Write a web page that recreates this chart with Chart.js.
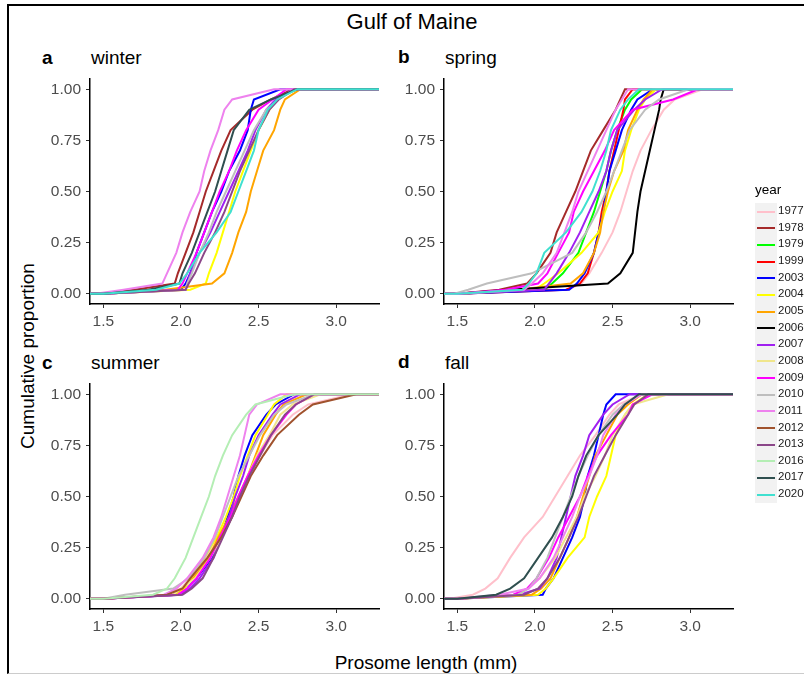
<!DOCTYPE html>
<html>
<head>
<meta charset="utf-8">
<script src="https://cdn.jsdelivr.net/npm/chart.js@4.4.1/dist/chart.umd.min.js"></script>
<style>
  body { margin: 0; width: 804px; height: 674px; background: #fff; position: relative; overflow: hidden;
         font-family: "Liberation Sans", Arial, sans-serif; }
  .frame { position: absolute; left: 7px; top: 4px; width: 820px; height: 667px;
           border-left: 2px solid #000; border-top: 2px solid #000; border-bottom: 1px solid #ccc; }
  .t { position: absolute; white-space: nowrap; line-height: 1; color: #000; }
  .c { transform: translate(-50%, -50%); }
  .l { transform: translateY(-50%); }
  canvas { position: absolute; }
  #legend { position: absolute; left: 755px; top: 180px; }
</style>
</head>
<body>
<div class="frame"></div>
<div class="t c" style="left:412px;top:22px;font-size:22px">Gulf of Maine</div>

<div class="t l" style="left:42px;top:57px;font-size:19px;font-weight:bold">a</div>
<div class="t l" style="left:91px;top:57px;font-size:19px">winter</div>
<div class="t l" style="left:398px;top:56px;font-size:19px;font-weight:bold">b</div>
<div class="t l" style="left:445px;top:57px;font-size:19px">spring</div>
<div class="t l" style="left:42px;top:362px;font-size:19px;font-weight:bold">c</div>
<div class="t l" style="left:91px;top:362px;font-size:19px">summer</div>
<div class="t l" style="left:398px;top:361px;font-size:19px;font-weight:bold">d</div>
<div class="t l" style="left:445px;top:362px;font-size:19px">fall</div>

<div class="t" style="left:27px;top:356px;font-size:19px;transform:translate(-50%,-50%) rotate(-90deg)">Cumulative proportion</div>
<div class="t c" style="left:426px;top:662px;font-size:19px">Prosome length (mm)</div>

<canvas id="winter" width="360" height="262" style="left:30px;top:70px"></canvas>
<canvas id="spring" width="360" height="262" style="left:384px;top:70px"></canvas>
<canvas id="summer" width="360" height="262" style="left:30px;top:375px"></canvas>
<canvas id="fall" width="360" height="262" style="left:384px;top:375px"></canvas>

<div id="legend"></div>

<script>
// years and their colours (legend order)
const years = ['1977', '1978', '1979', '1999', '2003', '2004', '2005', '2006', '2007',
  '2008', '2009', '2010', '2011', '2012', '2013', '2016', '2017', '2020']
const yearColors = ['#FFC0CB', '#A52A2A', '#00FF00', '#FF0000', '#0000FF', '#FFFF00', '#FFA500', '#000000', '#A020F0',
  '#F0E68C', '#FF00FF', '#BEBEBE', '#EE82EE', '#A0522D', '#8B4789', '#B4EEB4', '#2F4F4F', '#40E0D0']

// cumulative proportion levels, and the prosome length (mm) reached at each level
const cumLevels = [0, 0.02, 0.05, 0.1, 0.2, 0.3, 0.4, 0.5, 0.6, 0.7, 0.8, 0.9, 0.95, 1]

const winter = {
  '1978': [1.50, 1.70, 1.96, 1.98, 2.03, 2.08, 2.12, 2.16, 2.21, 2.26, 2.32, 2.46, 2.58, 2.72],
  '2003': [1.50, 2.00, 2.03, 2.06, 2.10, 2.15, 2.20, 2.26, 2.31, 2.38, 2.43, 2.45, 2.47, 2.64],
  '2004': [1.50, 2.06, 2.16, 2.18, 2.23, 2.27, 2.31, 2.35, 2.40, 2.45, 2.50, 2.57, 2.62, 2.73],
  '2005': [1.50, 1.90, 2.20, 2.28, 2.33, 2.37, 2.42, 2.45, 2.49, 2.53, 2.60, 2.64, 2.67, 2.77],
  '2007': [1.50, 2.03, 2.04, 2.06, 2.12, 2.19, 2.25, 2.31, 2.37, 2.43, 2.48, 2.55, 2.61, 2.73],
  '2009': [1.50, 1.98, 2.01, 2.04, 2.10, 2.15, 2.20, 2.25, 2.31, 2.36, 2.42, 2.50, 2.59, 2.68],
  '2010': [1.50, 2.03, 2.04, 2.07, 2.12, 2.18, 2.23, 2.29, 2.35, 2.41, 2.47, 2.55, 2.63, 2.73],
  '2011': [1.45, 1.63, 1.88, 1.91, 1.97, 2.01, 2.06, 2.12, 2.15, 2.19, 2.24, 2.28, 2.33, 2.60],
  '2013': [1.50, 2.03, 2.05, 2.09, 2.15, 2.22, 2.28, 2.33, 2.38, 2.44, 2.50, 2.57, 2.63, 2.73],
  '2017': [1.50, 1.79, 1.99, 2.01, 2.07, 2.12, 2.17, 2.22, 2.26, 2.30, 2.34, 2.44, 2.58, 2.75],
  '2020': [1.50, 1.84, 1.99, 2.04, 2.12, 2.23, 2.32, 2.37, 2.42, 2.47, 2.50, 2.56, 2.62, 2.75]
}

const spring = {
  '1977': [1.50, 2.21, 2.30, 2.35, 2.43, 2.50, 2.55, 2.59, 2.63, 2.68, 2.75, 2.83, 2.90, 3.08],
  '1978': [1.50, 1.77, 1.95, 2.01, 2.10, 2.14, 2.20, 2.26, 2.31, 2.36, 2.44, 2.52, 2.55, 2.58],
  '1979': [1.50, 2.06, 2.11, 2.18, 2.28, 2.33, 2.38, 2.42, 2.46, 2.49, 2.53, 2.58, 2.62, 2.69],
  '1999': [1.50, 2.20, 2.29, 2.34, 2.38, 2.41, 2.43, 2.46, 2.48, 2.51, 2.54, 2.57, 2.58, 2.63],
  '2003': [1.50, 2.22, 2.27, 2.32, 2.38, 2.41, 2.44, 2.46, 2.48, 2.52, 2.56, 2.62, 2.66, 2.76],
  '2004': [1.50, 2.00, 2.06, 2.15, 2.30, 2.41, 2.45, 2.50, 2.56, 2.58, 2.62, 2.67, 2.71, 2.78],
  '2005': [1.50, 1.89, 2.23, 2.31, 2.38, 2.42, 2.44, 2.47, 2.51, 2.57, 2.60, 2.66, 2.70, 2.76],
  '2006': [1.50, 1.83, 2.47, 2.55, 2.63, 2.645, 2.66, 2.68, 2.71, 2.74, 2.77, 2.80, 2.81, 2.83],
  '2007': [1.50, 2.06, 2.09, 2.14, 2.22, 2.29, 2.35, 2.41, 2.46, 2.49, 2.53, 2.64, 2.71, 2.82],
  '2009': [1.50, 1.81, 2.02, 2.08, 2.15, 2.22, 2.25, 2.31, 2.38, 2.45, 2.51, 2.63, 2.89, 3.05],
  '2010': [1.48, 1.57, 1.69, 1.98, 2.24, 2.33, 2.40, 2.46, 2.51, 2.56, 2.61, 2.71, 2.80, 2.99],
  '2011': [1.50, 1.93, 1.98, 2.05, 2.14, 2.19, 2.24, 2.28, 2.34, 2.40, 2.46, 2.52, 2.56, 2.60],
  '2020': [1.50, 1.92, 1.96, 2.01, 2.06, 2.20, 2.30, 2.37, 2.42, 2.46, 2.49, 2.55, 2.60, 2.67]
}

const summer = {
  '1977': [1.50, 1.90, 2.00, 2.06, 2.16, 2.25, 2.32, 2.38, 2.44, 2.51, 2.59, 2.72, 2.82, 3.10],
  '2003': [1.50, 1.98, 2.04, 2.10, 2.20, 2.26, 2.30, 2.34, 2.37, 2.41, 2.46, 2.55, 2.61, 2.73],
  '2004': [1.50, 1.96, 2.02, 2.07, 2.15, 2.23, 2.29, 2.34, 2.38, 2.43, 2.48, 2.56, 2.60, 2.68],
  '2005': [1.50, 1.95, 2.01, 2.08, 2.18, 2.24, 2.31, 2.37, 2.43, 2.48, 2.53, 2.61, 2.66, 2.81],
  '2007': [1.50, 2.00, 2.06, 2.12, 2.21, 2.26, 2.31, 2.35, 2.40, 2.44, 2.50, 2.59, 2.64, 2.77],
  '2008': [1.50, 1.95, 2.00, 2.09, 2.19, 2.26, 2.33, 2.38, 2.43, 2.49, 2.57, 2.64, 2.72, 2.90],
  '2009': [1.50, 1.98, 2.04, 2.10, 2.19, 2.25, 2.32, 2.37, 2.43, 2.50, 2.58, 2.68, 2.74, 2.86],
  '2010': [1.50, 1.64, 1.95, 2.05, 2.15, 2.22, 2.27, 2.32, 2.37, 2.44, 2.51, 2.60, 2.68, 2.86],
  '2011': [1.50, 1.89, 1.97, 2.04, 2.14, 2.21, 2.26, 2.30, 2.34, 2.38, 2.41, 2.44, 2.49, 2.64],
  '2012': [1.50, 1.91, 2.01, 2.06, 2.17, 2.26, 2.33, 2.39, 2.45, 2.53, 2.62, 2.76, 2.85, 3.13],
  '2013': [1.50, 2.01, 2.07, 2.14, 2.21, 2.27, 2.33, 2.38, 2.44, 2.51, 2.58, 2.67, 2.74, 2.86],
  '2016': [1.50, 1.82, 1.91, 1.96, 2.03, 2.08, 2.13, 2.18, 2.22, 2.27, 2.33, 2.42, 2.48, 2.73]
}

const fall = {
  '1977': [1.45, 1.60, 1.68, 1.76, 1.84, 1.93, 2.05, 2.13, 2.21, 2.29, 2.39, 2.48, 2.54, 2.69],
  '2003': [1.50, 2.05, 2.07, 2.12, 2.18, 2.24, 2.29, 2.32, 2.34, 2.38, 2.41, 2.44, 2.46, 2.52],
  '2004': [1.50, 2.02, 2.07, 2.12, 2.21, 2.32, 2.35, 2.40, 2.46, 2.49, 2.52, 2.58, 2.63, 2.73],
  '2005': [1.50, 1.98, 2.04, 2.10, 2.16, 2.22, 2.27, 2.31, 2.35, 2.39, 2.46, 2.53, 2.60, 2.69],
  '2007': [1.50, 1.90, 2.03, 2.08, 2.14, 2.17, 2.20, 2.23, 2.26, 2.31, 2.35, 2.44, 2.50, 2.61],
  '2008': [1.45, 1.90, 1.95, 2.03, 2.13, 2.20, 2.27, 2.32, 2.39, 2.45, 2.50, 2.58, 2.63, 2.86],
  '2009': [1.50, 1.86, 1.95, 2.01, 2.09, 2.15, 2.22, 2.29, 2.34, 2.40, 2.49, 2.60, 2.63, 2.76],
  '2010': [1.50, 1.89, 1.96, 2.01, 2.08, 2.13, 2.18, 2.23, 2.28, 2.34, 2.41, 2.50, 2.57, 2.69],
  '2011': [1.50, 1.77, 1.96, 2.03, 2.12, 2.18, 2.24, 2.29, 2.35, 2.40, 2.44, 2.52, 2.58, 2.69],
  '2013': [1.50, 1.93, 2.02, 2.08, 2.16, 2.22, 2.28, 2.33, 2.38, 2.45, 2.52, 2.60, 2.64, 2.73],
  '2017': [1.50, 1.75, 1.84, 1.93, 2.02, 2.11, 2.18, 2.24, 2.28, 2.33, 2.41, 2.53, 2.58, 2.67]
}

// axes
const X_MIN = 1.414
const X_MAX = 3.276
const xTicks = [1.5, 2.0, 2.5, 3.0]
const yTicks = [0, 0.25, 0.5, 0.75, 1]

const fontFamily = '"Liberation Sans", Arial, sans-serif'

function makePanel(id, season) {
  // ecdf lines are padded out to the panel edges like stat_ecdf(pad = TRUE)
  let datasets = years.filter(y => season[y]).map(y => {
    let i = years.indexOf(y)
    let pts = [{ x: X_MIN, y: 0 }]
    season[y].forEach((v, k) => pts.push({ x: v, y: cumLevels[k] }))
    pts.push({ x: X_MAX, y: 1 })
    return {
      label: y,
      data: pts,
      borderColor: yearColors[i],
      borderWidth: 2,
      pointRadius: 0,
      tension: 0,
      fill: false,
      order: -i
    }
  })

  let ctx = document.getElementById(id).getContext('2d')
  new Chart(ctx, {
    type: 'line',
    data: { datasets: datasets },
    options: {
      responsive: false,
      animation: false,
      events: [],
      layout: { padding: { top: 9, right: 11, left: 0, bottom: 0 } },
      plugins: { legend: { display: false }, tooltip: { enabled: false } },
      scales: {
        x: {
          type: 'linear',
          min: X_MIN,
          max: X_MAX,
          afterBuildTicks: s => { s.ticks = xTicks.map(v => ({ value: v })) },
          afterFit: s => { s.height = 28; s.paddingLeft = 0; s.paddingRight = 0 },
          ticks: {
            color: '#4d4d4d', padding: 4, maxRotation: 0,
            font: { size: 15.5, family: fontFamily },
            callback: v => Number(v).toFixed(1)
          },
          grid: { drawOnChartArea: false, tickLength: 4, tickColor: '#333', tickWidth: 1 },
          border: { color: '#000', width: 1.5 }
        },
        y: {
          min: -0.05,
          max: 1.05,
          afterBuildTicks: s => { s.ticks = yTicks.map(v => ({ value: v })) },
          afterFit: s => { s.width = 60; s.paddingTop = 0; s.paddingBottom = 0 },
          ticks: {
            color: '#4d4d4d', padding: 5,
            font: { size: 15.5, family: fontFamily },
            callback: v => Number(v).toFixed(2)
          },
          grid: { drawOnChartArea: false, tickLength: 4, tickColor: '#333', tickWidth: 1 },
          border: { color: '#000', width: 1.5 }
        }
      }
    }
  })
}

makePanel('winter', winter)
makePanel('spring', spring)
makePanel('summer', summer)
makePanel('fall', fall)

// legend
let legend = document.getElementById('legend')
let html = '<div class="t" style="left:0;top:3px;font-size:13.5px">year</div>'
html += '<div style="position:absolute;left:0;top:23px;width:22px;height:300px;background:#f2f2f2"></div>'
years.forEach((y, i) => {
  let cy = 31.7 + 16.64 * i
  html += '<div style="position:absolute;left:2px;top:' + (cy - 1) + 'px;width:18px;height:2px;background:' + yearColors[i] + '"></div>'
  html += '<div class="t" style="left:23px;top:' + (cy - 6.5) + 'px;font-size:11.5px;color:#1a1a1a">' + y + '</div>'
})
legend.innerHTML = html
</script>
</body>
</html>
